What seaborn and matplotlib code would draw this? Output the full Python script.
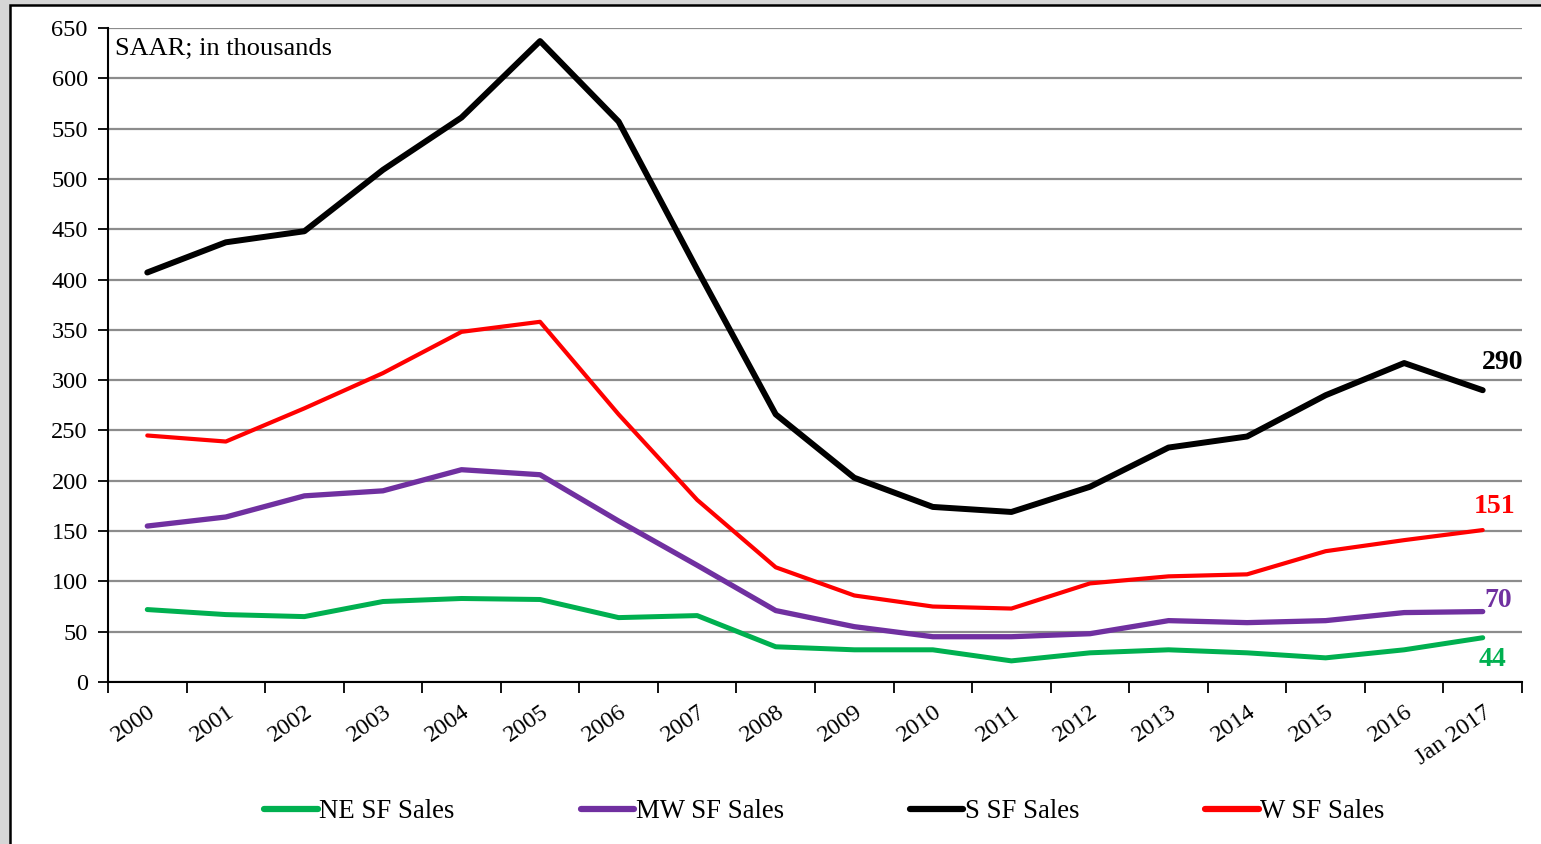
import matplotlib
matplotlib.use("Agg")
import matplotlib.pyplot as plt
import seaborn as sns
import pandas as pd
import numpy as np
from matplotlib.patches import Rectangle

categories = ["2000", "2001", "2002", "2003", "2004", "2005", "2006", "2007", "2008",
              "2009", "2010", "2011", "2012", "2013", "2014", "2015", "2016", "Jan 2017"]
ne_sales = [72, 67, 65, 80, 83, 82, 64, 66, 35, 32, 32, 21, 29, 32, 29, 24, 32, 44]
mw_sales = [155, 164, 185, 190, 211, 206, 160, 116, 71, 55, 45, 45, 48, 61, 59, 61, 69, 70]
s_sales = [407, 437, 448, 509, 561, 637, 557, 410, 266, 203, 174, 169, 194, 233, 244, 285, 317, 290]
w_sales = [245, 239, 272, 307, 348, 358, 266, 181, 114, 86, 75, 73, 98, 105, 107, 130, 141, 151]
series_names = ["NE SF Sales", "MW SF Sales", "S SF Sales", "W SF Sales"]
series_colors = ["#00b050", "#7030a0", "#000000", "#ff0000"]
series_values = [ne_sales, mw_sales, s_sales, w_sales]
y_ticks = list(range(0, 651, 50))

sns.set_style("white")
plt.rcParams["font.family"] = ["Liberation Serif", "DejaVu Serif"]
plt.rcParams["text.color"] = "black"
plt.rcParams["xtick.color"] = "black"
plt.rcParams["ytick.color"] = "black"
plt.rcParams["xtick.labelcolor"] = "black"
plt.rcParams["ytick.labelcolor"] = "black"

rows = []
for name, vals in zip(series_names, series_values):
    for i, v in enumerate(vals):
        rows.append({"idx": i, "value": v, "series": name})
df = pd.DataFrame(rows)

fig = plt.figure(figsize=(15.41, 8.44), dpi=100)
fig.patch.set_facecolor("#d6d6d6")
fig.patches.append(Rectangle((10 / 1541, -0.05), 1.1, 1 - 5 / 844 + 0.05,
                             transform=fig.transFigure, facecolor="white",
                             edgecolor="black", linewidth=1.8, zorder=-5))

ax = fig.add_axes([108 / 1541, 1 - 682 / 844, (1522 - 108) / 1541, (682 - 28) / 844])
ax.set_facecolor("white")

widths = {"NE SF Sales": 3.6, "MW SF Sales": 3.8, "S SF Sales": 4.3, "W SF Sales": 3.0}
sns.lineplot(data=df, x="idx", y="value", hue="series", hue_order=series_names,
             palette=dict(zip(series_names, series_colors)), ax=ax, legend=False,
             zorder=3)
for line, name in zip(ax.get_lines(), series_names):
    line.set_linewidth(widths[name])
    line.set_solid_capstyle("round")
    line.set_solid_joinstyle("round")

n = len(categories)
ax.set_xlim(-0.5, n - 0.5)
ax.set_ylim(0, 650)
ax.set_yticks(y_ticks)
ax.set_yticklabels([str(t) for t in y_ticks], fontsize=17.5, color="black")
ax.set_xticks(np.arange(-0.5, n, 1.0))
ax.set_xticklabels([])
ax.set_xticks(np.arange(n), minor=True)
ax.set_xticklabels(categories, minor=True, fontsize=17.5, rotation=35,
                   ha="right", rotation_mode="anchor", color="black")
ax.tick_params(axis="x", which="major", direction="out", length=8, width=1.3, color="black", bottom=True)
ax.tick_params(axis="x", which="minor", length=0, pad=14)
ax.tick_params(axis="y", direction="out", length=7, width=1.3, color="black", left=True, pad=7.5)
ax.set_xlabel("")
ax.set_ylabel("")

ax.yaxis.grid(True, color="#8c8c8c", linewidth=1.6)
ax.xaxis.grid(False)
ax.set_axisbelow(True)
for side in ["top", "right"]:
    ax.spines[side].set_visible(False)
for side in ["left", "bottom"]:
    ax.spines[side].set_color("black")
    ax.spines[side].set_linewidth(1.5)
    ax.spines[side].set_zorder(4)

ax.text(0.005, 0.985, "SAAR; in thousands", transform=ax.transAxes, fontsize=19,
        ha="left", va="top", color="black")

last = n - 1
offsets = {"S SF Sales": (20, 28), "W SF Sales": (12, 24), "MW SF Sales": (15, 11), "NE SF Sales": (10, -22)}
for name, vals, col in zip(series_names, series_values, series_colors):
    ax.annotate(str(vals[-1]), xy=(last, vals[-1]), xytext=offsets[name],
                textcoords="offset pixels", ha="center", va="center",
                fontsize=20, fontweight="bold", color=col)

handles = [plt.Line2D([], [], color=c, linewidth=4.5, solid_capstyle="round") for c in series_colors]
leg = fig.legend(handles, series_names, loc="center", bbox_to_anchor=(0.535, 1 - 812 / 844),
                 ncol=4, frameon=False, fontsize=19.3, handlelength=2.0, handletextpad=0.05,
                 columnspacing=4.7)
for t in leg.get_texts():
    t.set_color("black")

fig.savefig("out.png", dpi=100, facecolor=fig.get_facecolor())
